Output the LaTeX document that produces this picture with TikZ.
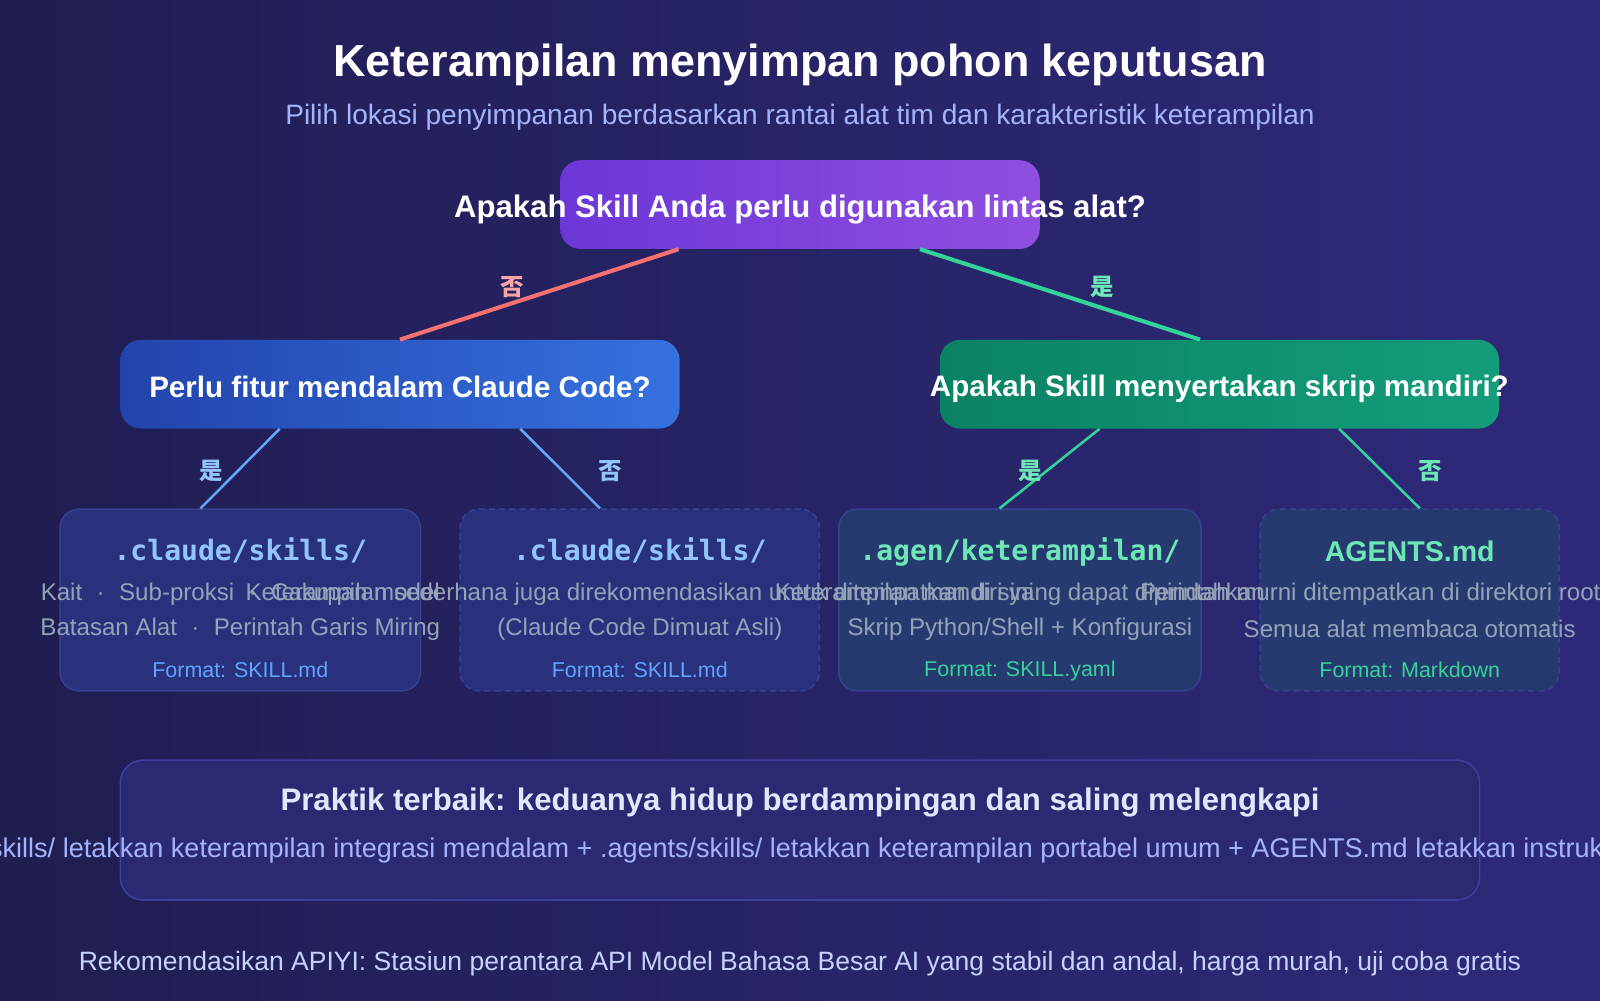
\documentclass[tikz,border=0pt]{standalone}
\usepackage{fontspec}
\setmainfont{Liberation Sans}
\newfontfamily\monofont{DejaVu Sans Mono}
\newfontfamily\cjk{Noto Sans CJK SC}
\usetikzlibrary{calc}
\definecolor{bgA}{HTML}{201D52}
\definecolor{bgB}{HTML}{2E2A7A}
\definecolor{rootA}{HTML}{6C37D7}
\definecolor{rootB}{HTML}{904EE0}
\definecolor{blueA}{HTML}{2343AC}
\definecolor{blueB}{HTML}{3572DF}
\definecolor{greenA}{HTML}{0A8364}
\definecolor{greenB}{HTML}{149D7B}
\definecolor{lineRed}{HTML}{F87171}
\definecolor{lineGreen}{HTML}{34D399}
\definecolor{lineBlue}{HTML}{60A5FA}
\definecolor{txtRed}{HTML}{FCA5A5}
\definecolor{txtBlue}{HTML}{93C5FD}
\definecolor{txtGreen}{HTML}{6EE7B7}
\definecolor{txtGray}{HTML}{94A3B8}
\definecolor{txtLav}{HTML}{A5B4FC}
\definecolor{txtPale}{HTML}{E0E7FF}
\definecolor{txtFoot}{HTML}{C7D2FE}
\definecolor{leafBlue}{HTML}{29317D}
\definecolor{leafTeal}{HTML}{263A70}
\definecolor{leafEdge}{HTML}{36418F}
\definecolor{tipFill}{HTML}{2C2973}
\definecolor{tipEdge}{HTML}{3F3F9E}
\begin{document}
\begin{tikzpicture}[x=1pt, y=-1pt,
  qbox/.style={shape=rectangle, rounded corners=20pt, minimum height=87pt, inner sep=0pt},
  qtext/.style={text=white, font=\fontsize{29}{33}\selectfont\bfseries},
  leafbox/.style={shape=rectangle, rounded corners=18pt, minimum height=178pt, inner sep=0pt, line width=1.5pt, draw=leafEdge},
  leafdash/.style={leafbox, dashed, dash pattern=on 6pt off 4pt},
  pathtext/.style={font=\monofont\fontsize{27.5}{30}\selectfont\bfseries},
  bodytext/.style={text=txtGray, font=\fontsize{23.6}{27}\selectfont},
  fmttext/.style={font=\fontsize{21}{25}\selectfont},
  yesno/.style={font=\cjk\bfseries\fontsize{23}{25}\selectfont},
  bigline/.style={-, line width=4pt},
  smallline/.style={-, line width=2.5pt}]
\useasboundingbox (0,0) rectangle (1568,980);
\shade[left color=bgA, right color=bgB] (0,0) rectangle (1568,980);
% heading
\node[text=white, font=\fontsize{44}{50}\selectfont\bfseries] (title) at (784,64) {Keterampilan menyimpan pohon keputusan};
\node[text=txtLav, font=\fontsize{27.5}{32}\selectfont] (subtitle) at (784,115) {Pilih lokasi penyimpanan berdasarkan rantai alat tim dan karakteristik keterampilan};
% questions
\node[qbox, minimum width=470pt, left color=rootA, right color=rootB] (root) at (784,200.5) {};
\node[qtext, font=\fontsize{30.5}{34}\selectfont\bfseries] (root-t) at (784,205) {Apakah Skill Anda perlu digunakan lintas alat?};
\node[qbox, minimum width=548pt, left color=blueA, right color=blueB] (midL) at (392,376.5) {};
\node[qtext] (midL-t) at (392,379) {Perlu fitur mendalam Claude Code?};
\node[qbox, minimum width=548pt, left color=greenA, right color=greenB] (midR) at (1195,376.5) {};
\node[qtext] (midR-t) at (1195,381) {Apakah Skill menyertakan skrip mandiri?};
% leaves
\node[leafbox, minimum width=353pt, fill=leafBlue] (leafA) at (235.5,588) {};
\node[leafdash, minimum width=352pt, fill=leafBlue] (leafB) at (627,588) {};
\node[leafbox, minimum width=355pt, fill=leafTeal] (leafC) at (999.5,588) {};
\node[leafdash, minimum width=293pt, fill=leafTeal] (leafD) at (1381.5,588) {};
\node[pathtext, text=txtBlue] (leafA-h) at (235.5,539) {.claude/skills/};
\node[bodytext] (leafA-1) at (235.5,582) {Kait\hspace{0.6em}·\hspace{0.6em}Sub-proksi\hspace{0.6em}·\hspace{0.6em}Cakupan model};
\node[bodytext] (leafA-2) at (235.5,617) {Batasan Alat\hspace{0.6em}·\hspace{0.6em}Perintah Garis Miring};
\node[fmttext, text=lineBlue] (leafA-f) at (235.5,656) {Format: SKILL.md};
\node[pathtext, text=txtBlue] (leafB-h) at (627,539) {.claude/skills/};
\node[bodytext] (leafB-1) at (627,582) {Keterampilan sederhana juga direkomendasikan untuk ditempatkan di sini};
\node[bodytext] (leafB-2) at (627,617) {(Claude Code Dimuat Asli)};
\node[fmttext, text=lineBlue] (leafB-f) at (627,656) {Format: SKILL.md};
\node[pathtext, text=txtGreen] (leafC-h) at (999.5,541) {.agen/keterampilan/};
\node[bodytext] (leafC-1) at (999.5,582) {Keterampilan mandiri yang dapat dipindahkan};
\node[bodytext] (leafC-2) at (999.5,617) {Skrip Python/Shell + Konfigurasi};
\node[fmttext, text=lineGreen] (leafC-f) at (999.5,658) {Format: SKILL.yaml};
\node[text=txtGreen, font=\fontsize{28}{31}\selectfont\bfseries] (leafD-h) at (1381.5,540) {AGENTS.md};
\node[bodytext] (leafD-1) at (1381.5,582) {Perintah murni ditempatkan di direktori root proyek};
\node[bodytext] (leafD-2) at (1381.5,616) {Semua alat membaca otomatis};
\node[fmttext, text=lineGreen] (leafD-f) at (1381.5,656) {Format: Markdown};
% connectors
\path [bigline, draw=lineRed] ($(root.south west)!0.247!(root.south east)$) edge node[yesno, text=txtRed, xshift=-27pt, yshift=7pt] {否} (midL.north);
\path [bigline, draw=lineGreen] ($(root.south west)!0.75!(root.south east)$) edge node[yesno, text=txtGreen, xshift=41pt, yshift=7pt] {是} ([xshift=-19pt]midR.north);
\path [smallline, draw=lineBlue] ($(midL.south west)!0.285!(midL.south east)$) edge node[yesno, text=txtBlue, xshift=-28pt, yshift=-2pt] {是} ([xshift=-39pt]leafA.north);
\path [smallline, draw=lineBlue] ($(midL.south west)!0.715!(midL.south east)$) edge node[yesno, text=txtBlue, xshift=49pt, yshift=-2pt] {否} ([xshift=-39pt]leafB.north);
\path [smallline, draw=lineGreen] ($(midR.south west)!0.286!(midR.south east)$) edge node[yesno, text=txtGreen, xshift=-19pt, yshift=-2pt] {是} ([xshift=-20pt]leafC.north);
\path [smallline, draw=lineGreen] ($(midR.south west)!0.714!(midR.south east)$) edge node[yesno, text=txtGreen, xshift=50pt, yshift=-2pt] {否} ([xshift=10pt]leafD.north);
% best practice
\node[shape=rectangle, rounded corners=22pt, minimum width=1332pt, minimum height=137pt, fill=tipFill, draw=tipEdge, line width=1.5pt] (tip) at (784,813.5) {};
\node[text=txtPale, font=\fontsize{30.5}{35}\selectfont\bfseries] (tip-h) at (784,786) {Praktik terbaik: keduanya hidup berdampingan dan saling melengkapi};
\node[text=txtLav, font=\fontsize{26.5}{30}\selectfont] (tip-1) at (784,833) {.claude/skills/ letakkan keterampilan integrasi mendalam + .agents/skills/ letakkan keterampilan portabel umum + AGENTS.md letakkan instruksi umum};
% footer
\node[text=txtFoot, font=\fontsize{26}{30}\selectfont] (foot) at (784,944) {Rekomendasikan APIYI: Stasiun perantara API Model Bahasa Besar AI yang stabil dan andal, harga murah, uji coba gratis};
\end{tikzpicture}
\end{document}
